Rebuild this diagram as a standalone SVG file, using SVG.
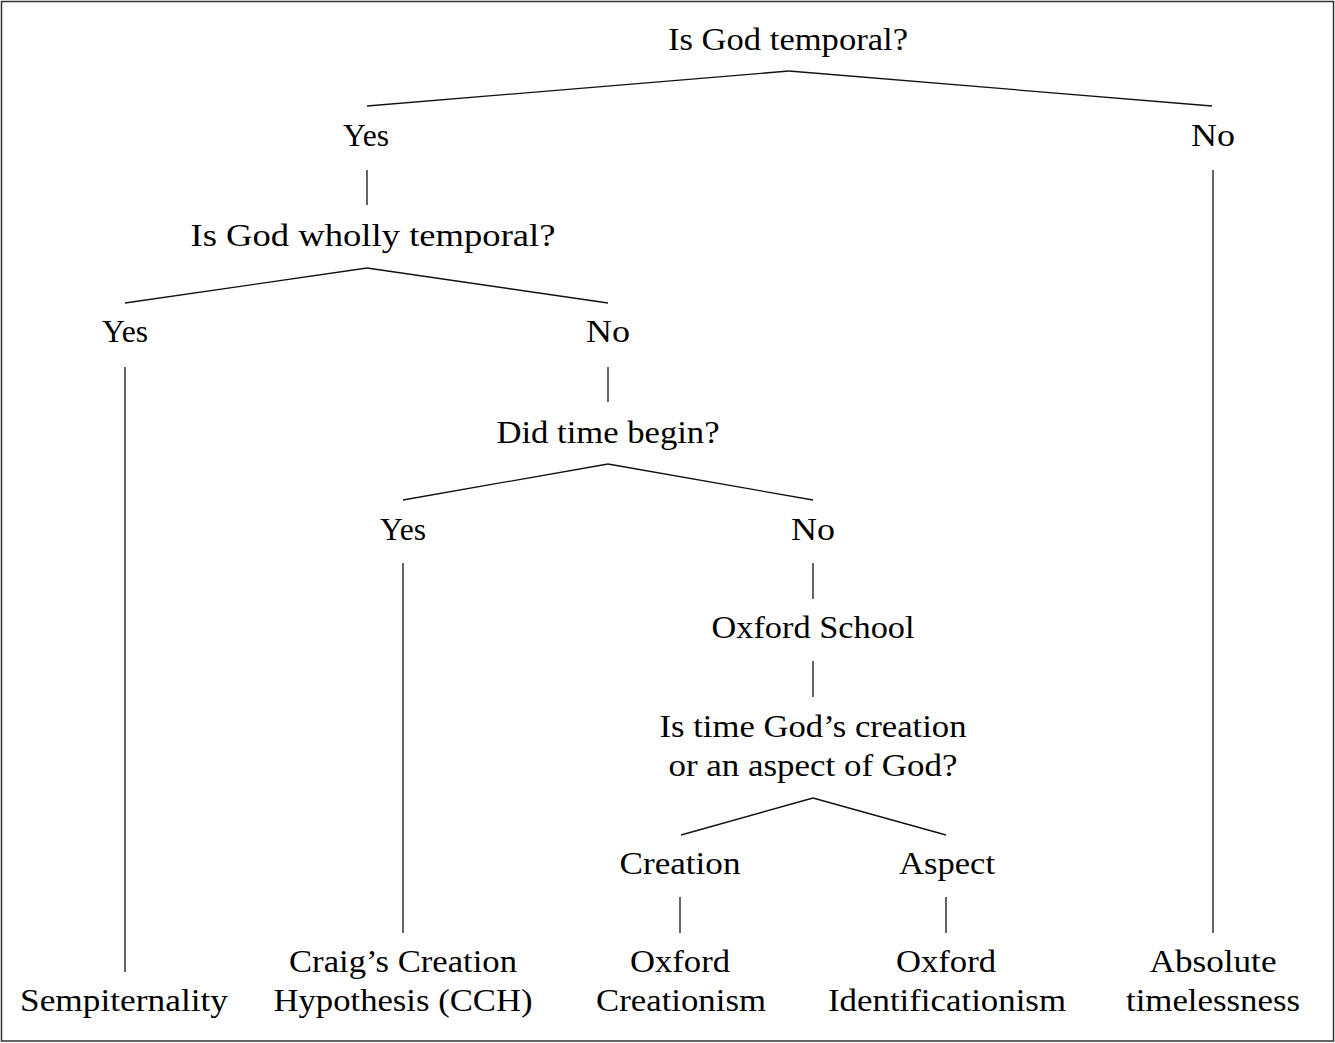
<svg xmlns="http://www.w3.org/2000/svg" width="1335" height="1043" viewBox="0 0 1335 1043">
<style>
text{font-family:"Liberation Serif","Times New Roman",serif;font-size:32px;fill:#000;text-anchor:middle}
.c line{stroke:#111;stroke-width:1.3;fill:none}
.frame{fill:#fff;stroke:#333;stroke-width:1.5}
</style>
<rect class="frame" x="1.5" y="1.5" width="1332" height="1039.5"/>
<g class="c" id="connectors">
<line x1="789" y1="71" x2="367" y2="106"/>
<line x1="789" y1="71" x2="1212" y2="106"/>
<line x1="367" y1="170" x2="367" y2="205"/>
<line x1="1213" y1="170" x2="1213" y2="933"/>
<line x1="367" y1="268" x2="125" y2="303"/>
<line x1="367" y1="268" x2="608" y2="303"/>
<line x1="125" y1="367" x2="125" y2="972"/>
<line x1="608" y1="367" x2="608" y2="402"/>
<line x1="608" y1="464" x2="403" y2="500"/>
<line x1="608" y1="464" x2="813" y2="500"/>
<line x1="403" y1="563" x2="403" y2="933"/>
<line x1="813" y1="563" x2="813" y2="599"/>
<line x1="813" y1="661" x2="813" y2="697"/>
<line x1="813" y1="798" x2="681" y2="835"/>
<line x1="813" y1="798" x2="946" y2="835"/>
<line x1="680" y1="897" x2="680" y2="933"/>
<line x1="946" y1="897" x2="946" y2="933"/>
</g>
<g id="q1"><text x="788" y="50" textLength="240" lengthAdjust="spacingAndGlyphs">Is God temporal?</text></g>
<g id="yes1"><text x="366" y="146" textLength="46" lengthAdjust="spacingAndGlyphs">Yes</text></g>
<g id="no1"><text x="1213" y="146" textLength="44" lengthAdjust="spacingAndGlyphs">No</text></g>
<g id="q2"><text x="373" y="246" textLength="365" lengthAdjust="spacingAndGlyphs">Is God wholly temporal?</text></g>
<g id="yes2"><text x="125" y="342" textLength="46" lengthAdjust="spacingAndGlyphs">Yes</text></g>
<g id="no2"><text x="608" y="342" textLength="44" lengthAdjust="spacingAndGlyphs">No</text></g>
<g id="q3"><text x="608" y="443" textLength="223" lengthAdjust="spacingAndGlyphs">Did time begin?</text></g>
<g id="yes3"><text x="403" y="540" textLength="46" lengthAdjust="spacingAndGlyphs">Yes</text></g>
<g id="no3"><text x="813" y="540" textLength="44" lengthAdjust="spacingAndGlyphs">No</text></g>
<g id="oxford"><text x="813" y="638" textLength="203" lengthAdjust="spacingAndGlyphs">Oxford School</text></g>
<g id="q4"><text x="813" y="737" textLength="307" lengthAdjust="spacingAndGlyphs">Is time God’s creation</text><text x="813" y="776" textLength="289" lengthAdjust="spacingAndGlyphs">or an aspect of God?</text></g>
<g id="creation"><text x="680" y="874" textLength="121" lengthAdjust="spacingAndGlyphs">Creation</text></g>
<g id="aspect"><text x="947" y="874" textLength="96" lengthAdjust="spacingAndGlyphs">Aspect</text></g>
<g id="sempiternality"><text x="124" y="1011" textLength="208" lengthAdjust="spacingAndGlyphs">Sempiternality</text></g>
<g id="cch"><text x="403" y="972" textLength="228" lengthAdjust="spacingAndGlyphs">Craig’s Creation</text><text x="403" y="1011" textLength="259" lengthAdjust="spacingAndGlyphs">Hypothesis (CCH)</text></g>
<g id="ocreationism"><text x="680" y="972" textLength="100" lengthAdjust="spacingAndGlyphs">Oxford</text><text x="681" y="1011" textLength="170" lengthAdjust="spacingAndGlyphs">Creationism</text></g>
<g id="oident"><text x="946" y="972" textLength="100" lengthAdjust="spacingAndGlyphs">Oxford</text><text x="947" y="1011" textLength="238" lengthAdjust="spacingAndGlyphs">Identificationism</text></g>
<g id="abs"><text x="1213" y="972" textLength="127" lengthAdjust="spacingAndGlyphs">Absolute</text><text x="1213" y="1011" textLength="174" lengthAdjust="spacingAndGlyphs">timelessness</text></g>
</svg>
